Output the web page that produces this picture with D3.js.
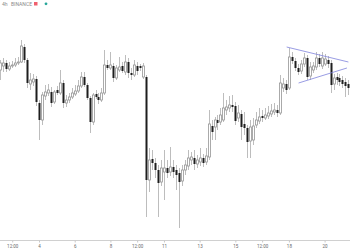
<!DOCTYPE html>
<html>
<head>
<meta charset="utf-8">
<script src="https://cdn.jsdelivr.net/npm/d3@7/dist/d3.min.js"></script>
<style>
    body { margin: 0; background: #fff; }
    #chart { width: 350px; height: 250px; }
</style>
</head>
<body>
<div id="chart"></div>
<script>
// 4h candles, BINANCE, starting 1st of the month 20:00 UTC
const startTime = Date.UTC(2021, 2, 1, 20);
const stepMs = 4 * 3600 * 1000;

const opens = [230, 234, 237, 231, 234, 235, 237, 238, 253, 240, 216, 218, 221, 197, 180, 204, 207, 208, 198, 210,
    207, 217, 197, 200, 203, 206, 209, 214, 223, 215, 202, 178, 206, 203, 200, 207, 235, 232, 234, 222,
    230, 234, 228, 238, 227, 225, 234, 234, 223, 223, 120, 141, 137, 130, 118, 128, 132, 128, 133, 130,
    127, 119, 130, 134, 140, 142, 136, 138, 142, 138, 143, 174, 173, 180, 178, 180, 190, 192, 195, 194,
    182, 186, 176, 172, 159, 160, 175, 179, 184, 182, 184, 186, 188, 190, 187, 212, 216, 212, 243, 239,
    232, 229, 236, 242, 224, 230, 233, 242, 234, 236, 240, 237, 216, 223, 222, 220, 218, 216];
const highs = [240, 242, 240, 238, 239, 242, 243, 260, 256, 242, 227, 226, 224, 200, 208, 215, 216, 213, 210, 214,
    230, 220, 205, 207, 212, 215, 220, 228, 228, 217, 204, 207, 210, 207, 212, 250, 240, 248, 237, 235,
    243, 238, 245, 242, 232, 240, 238, 236, 237, 225, 152, 150, 142, 135, 140, 150, 140, 153, 140, 135,
    132, 135, 140, 150, 148, 150, 145, 152, 146, 152, 190, 180, 183, 185, 192, 207, 200, 204, 205, 198,
    195, 190, 188, 175, 180, 182, 188, 192, 190, 192, 194, 196, 197, 195, 225, 222, 220, 252, 248, 242,
    236, 240, 247, 245, 238, 238, 248, 246, 248, 246, 244, 240, 226, 227, 226, 224, 222, 220];
const lows = [220, 228, 228, 229, 232, 233, 235, 237, 237, 212, 210, 214, 194, 160, 175, 200, 204, 193, 196, 205,
    205, 192, 193, 197, 201, 204, 207, 212, 213, 200, 167, 175, 201, 196, 198, 205, 230, 230, 218, 220,
    228, 227, 225, 222, 220, 223, 225, 229, 221, 83, 108, 130, 122, 83, 114, 100, 122, 124, 122, 110,
    72, 114, 125, 130, 135, 130, 132, 134, 133, 135, 140, 160, 160, 170, 175, 178, 185, 188, 188, 175,
    178, 160, 165, 142, 142, 155, 172, 176, 178, 180, 181, 183, 185, 183, 185, 208, 206, 210, 236, 229,
    225, 226, 233, 220, 220, 227, 230, 233, 231, 234, 232, 207, 210, 215, 214, 212, 203, 205];
const closes = [237, 237, 231, 234, 235, 237, 238, 254, 240, 217, 220, 221, 198, 180, 205, 208, 210, 197, 208, 207,
    217, 197, 200, 203, 207, 209, 214, 223, 215, 202, 178, 205, 203, 200, 207, 235, 232, 235, 222, 232,
    233, 229, 238, 227, 225, 235, 229, 232, 234, 120, 140, 137, 130, 117, 132, 132, 127, 133, 128, 125,
    118, 130, 135, 142, 143, 136, 140, 142, 137, 144, 176, 168, 180, 177, 185, 192, 193, 195, 193, 179,
    187, 173, 172, 158, 173, 174, 180, 183, 182, 185, 187, 189, 190, 187, 217, 216, 210, 243, 239, 232,
    228, 236, 242, 223, 233, 234, 242, 236, 242, 241, 236, 215, 222, 220, 218, 216, 214, 212];

// triangle drawn on the chart: [time, price] end points
const upperLine = [[Date.UTC(2021, 2, 17, 21), 253], [Date.UTC(2021, 2, 21, 8), 238]];
const lowerLine = [[Date.UTC(2021, 2, 18, 13), 217], [Date.UTC(2021, 2, 21, 6), 232]];

// x axis labels
const tickTimes = [Date.UTC(2021, 2, 2, 12), Date.UTC(2021, 2, 4), Date.UTC(2021, 2, 6), Date.UTC(2021, 2, 8),
    Date.UTC(2021, 2, 9, 12), Date.UTC(2021, 2, 11), Date.UTC(2021, 2, 13), Date.UTC(2021, 2, 15),
    Date.UTC(2021, 2, 16, 12), Date.UTC(2021, 2, 18), Date.UTC(2021, 2, 20)];
const tickLabels = ["12:00", "4", "6", "8", "12:00", "11", "13", "15", "12:00", "18", "20"];

const drawChart = () => {
    const width = 350, height = 250;
    const axisY = 240;

    const candles = opens.map((o, i) => ({
        t: new Date(startTime + i * stepMs),
        open: o,
        high: highs[i],
        low: lows[i],
        close: closes[i]
    }));

    const svg = d3.select("#chart")
        .append("svg")
        .attr("width", width)
        .attr("height", height)
        .attr("viewBox", [0, 0, width, height]);

    const x = d3.scaleUtc()
        .domain([new Date(Date.UTC(2021, 2, 1, 19, 34)), new Date(Date.UTC(2021, 2, 21, 10, 9))])
        .range([0, width]);

    const y = d3.scaleLinear()
        .domain([60, 300])
        .range([axisY, 0]);

    const cx = d => Math.round(x(d.t)) + 0.5;

    // wicks
    svg.append("g")
        .attr("stroke", "#bdbdbd")
        .attr("stroke-width", 1)
        .selectAll("line")
        .data(candles)
        .join("line")
        .attr("x1", cx)
        .attr("x2", cx)
        .attr("y1", d => y(d.high))
        .attr("y2", d => y(d.low));

    // bearish bodies, filled
    svg.append("g")
        .attr("fill", "#1e1e1e")
        .selectAll("rect")
        .data(candles.filter(d => d.close < d.open))
        .join("rect")
        .attr("x", d => cx(d) - 1)
        .attr("y", d => y(d.open))
        .attr("width", 2)
        .attr("height", d => Math.max(1, y(d.close) - y(d.open)));

    // bullish bodies, hollow
    svg.append("g")
        .attr("fill", "#fff")
        .attr("stroke", "#969696")
        .attr("stroke-width", 0.8)
        .selectAll("rect")
        .data(candles.filter(d => d.close >= d.open))
        .join("rect")
        .attr("x", d => cx(d) - 1)
        .attr("y", d => y(d.close))
        .attr("width", 2)
        .attr("height", d => Math.max(0.5, y(d.open) - y(d.close)));

    // triangle
    const line = d3.line()
        .x(d => x(new Date(d[0])))
        .y(d => y(d[1]));

    svg.append("g")
        .attr("fill", "none")
        .attr("stroke", "#7f83dc")
        .attr("stroke-width", 0.8)
        .selectAll("path")
        .data([upperLine, lowerLine])
        .join("path")
        .attr("d", line);

    // time axis
    const xAxis = g => g
        .attr("transform", `translate(0,${axisY + 0.5})`)
        .call(d3.axisBottom(x)
            .tickValues(tickTimes.map(t => new Date(t)))
            .tickFormat((d, i) => tickLabels[i])
            .tickSize(2)
            .tickPadding(2))
        .call(g => g.select(".domain")
            .attr("stroke", "#d0d0d0")
            .attr("d", `M0,0H${width}`))
        .call(g => g.selectAll(".tick line").attr("stroke", "#c8c8c8"))
        .call(g => g.selectAll(".tick text")
            .attr("fill", "#6a6a6a")
            .attr("font-family", "Roboto, sans-serif")
            .attr("font-size", 4.5));

    svg.append("g")
        .call(xAxis);

    // header
    const header = svg.append("g")
        .attr("font-family", "Roboto, sans-serif")
        .attr("font-size", 5)
        .attr("fill", "#8a8a8a");

    header.append("text")
        .attr("x", 2)
        .attr("y", 5.5)
        .text("4h");

    header.append("text")
        .attr("x", 11)
        .attr("y", 5.5)
        .text("BINANCE");

    header.append("rect")
        .attr("x", 34)
        .attr("y", 2)
        .attr("width", 3.5)
        .attr("height", 3.5)
        .attr("fill", "#f0606e");

    header.append("circle")
        .attr("cx", 46)
        .attr("cy", 3.8)
        .attr("r", 1.4)
        .attr("fill", "#26a69a");
};

drawChart();
</script>
</body>
</html>
